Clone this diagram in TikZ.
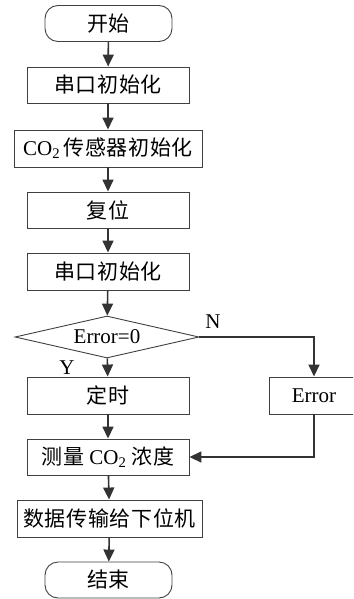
\documentclass[tikz,border=0pt]{standalone}
\usepackage{fontspec}
\setmainfont{Liberation Serif}
\newfontfamily\cjk[LetterSpace=3]{Noto Sans CJK SC}
\usetikzlibrary{arrows.meta,shapes.geometric}
\tikzset{
  box/.style={draw=black!75, line width=0.9pt, rectangle, minimum height=36pt, inner sep=0pt, font=\fontsize{21}{23}\selectfont},
  term/.style={box, rounded corners=13pt, minimum width=127pt},
  dec/.style={draw=black!75, line width=0.9pt, diamond, shape aspect=4.4, minimum width=184pt, minimum height=42pt, inner sep=0pt, font=\fontsize{21}{23}\selectfont},
  flow/.style={draw=black!80, line width=1.6pt, -{Triangle[width=11pt,length=12pt]}},
  lbl/.style={font=\fontsize{21}{23}\selectfont, inner sep=0pt}
}
\begin{document}
\begin{tikzpicture}[x=1pt,y=-1pt]
\useasboundingbox (0,0) rectangle (353,599);
\clip (0,0) rectangle (353,599);
\node[term] (start) at (108.5,23.5) {\cjk 开始};
\node[box, minimum width=162pt] (b1) at (108,85) {\cjk 串口初始化};
\node[box, minimum width=188pt, minimum height=37pt] (b2) at (108,148.5) {CO\textsubscript{2}\,{\cjk 传感器初始化}};
\node[box, minimum width=162pt] (b3) at (108,210) {\cjk 复位};
\node[box, minimum width=162pt, minimum height=37pt] (b4) at (108,271.5) {\cjk 串口初始化};
\node[dec] (d) at (107,337) {Error=0};
\node[box, minimum width=162pt, minimum height=37pt] (t) at (108,395.5) {\cjk 定时};
\node[box, minimum width=90pt, minimum height=37pt] (err) at (314,395.5) {Error};
\node[box, minimum width=162pt] (m) at (108,457) {{\cjk 测量} CO\textsubscript{2} {\cjk 浓度}};
\node[box, minimum width=185pt, minimum height=37pt] (s) at (109.5,518.5) {\cjk 数据传输给下位机};
\node[term, minimum height=36pt] (end) at (108.5,580) {\cjk 结束};
\node[lbl] (ylab) at (67,368) {Y};
\node[lbl] (nlab) at (213,322) {N};
\draw[flow] (start) -- (b1);
\draw[flow] (b1) -- (b2);
\draw[flow] (b2) -- (b3);
\draw[flow] (b3) -- (b4);
\draw[flow] (b4) -- (d);
\draw[flow] (d) -- (t);
\draw[flow] (d.east) -| (err.north);
\draw[flow] (t) -- (m);
\draw[flow] (err.south) |- (m.east);
\draw[flow] (m) -- (s);
\draw[flow] (s) -- (end);
\end{tikzpicture}
\end{document}
